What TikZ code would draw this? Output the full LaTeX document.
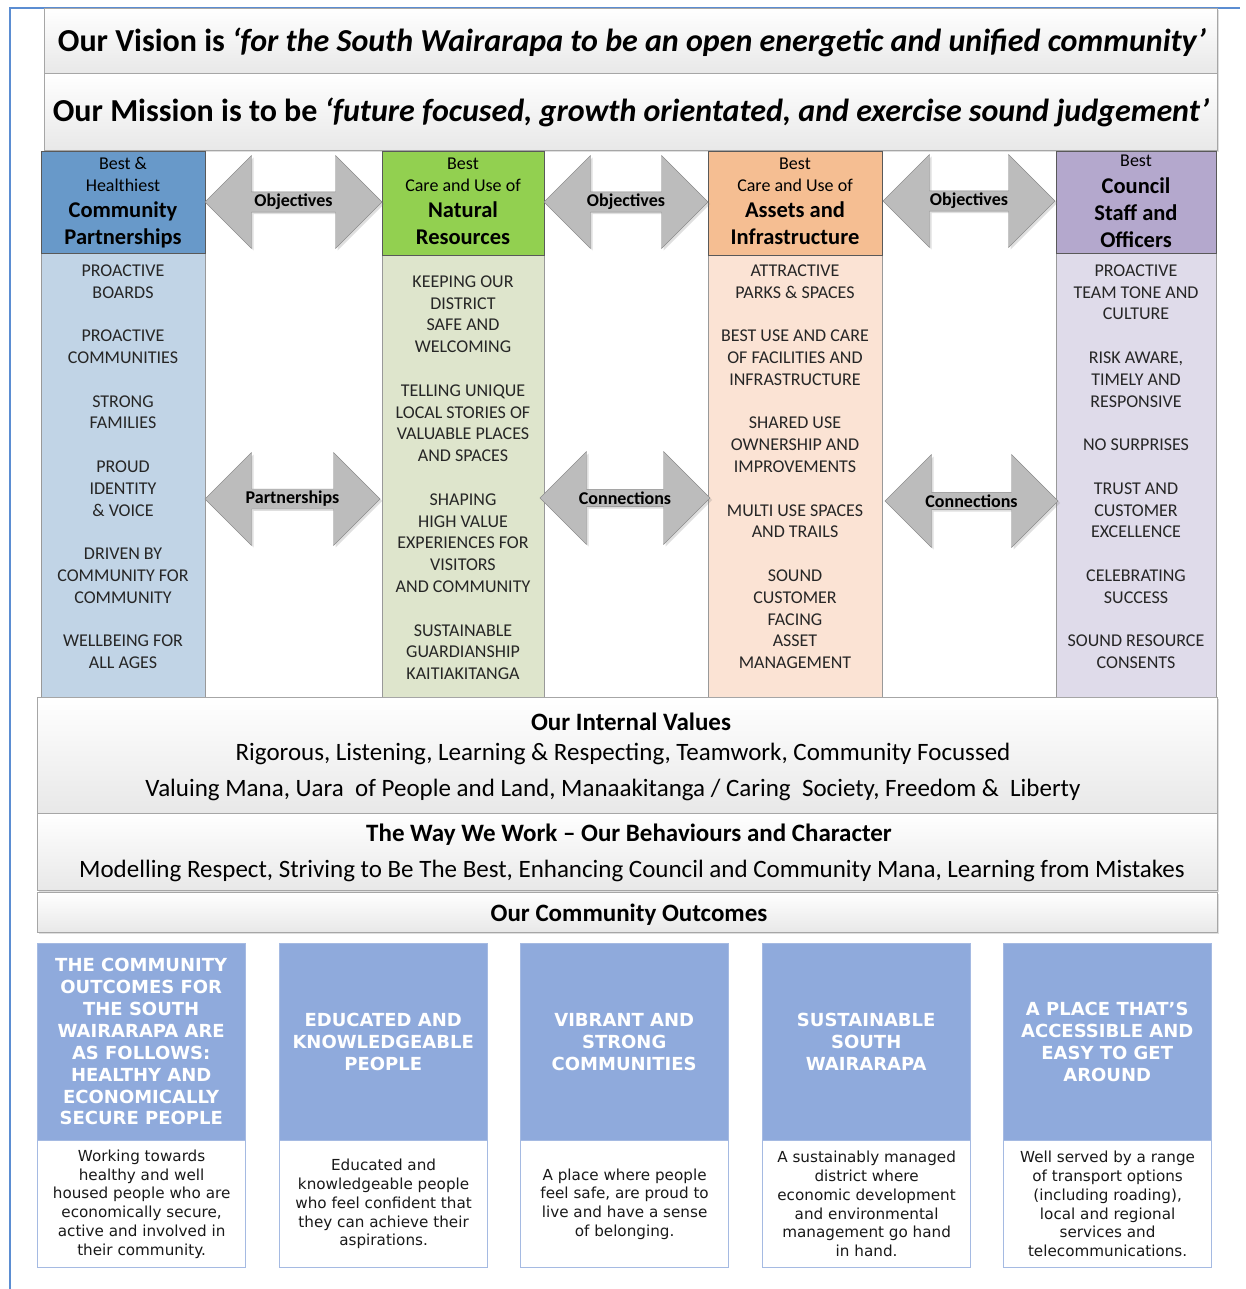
\documentclass[tikz,border=0pt]{standalone}
\usepackage{fontspec}
\setmainfont{Carlito}
\newfontfamily\cardfont{DejaVu Sans}
\usetikzlibrary{shapes.arrows,shadows,positioning}

\definecolor{frameblue}{RGB}{91,141,210}
\definecolor{cpHead}{RGB}{104,153,201}
\definecolor{cpBody}{RGB}{193,212,230}
\definecolor{nrHead}{RGB}{146,208,80}
\definecolor{nrBody}{RGB}{222,229,204}
\definecolor{aiHead}{RGB}{245,190,146}
\definecolor{aiBody}{RGB}{251,227,212}
\definecolor{soHead}{RGB}{180,168,205}
\definecolor{soBody}{RGB}{223,219,234}
\definecolor{outHead}{RGB}{143,170,220}
\definecolor{outLine}{RGB}{165,186,226}
\definecolor{linkGray}{RGB}{188,188,188}

\tikzset{
    banner/.style={draw=black!35, top color=white, bottom color=black!9, anchor=north west, inner sep=0pt,
        drop shadow={opacity=0.25, shadow xshift=2pt, shadow yshift=-2pt}},
    colhead/.style={draw=black!65, line width=1pt, anchor=north west, inner sep=0pt},
    colbody/.style={draw=black!40, anchor=north west, inner sep=0pt},
    linking/.style={double arrow, double arrow head extend=29pt, minimum width=93pt, inner sep=0pt,
        fill=linkGray, draw=black!45,
        drop shadow={opacity=0.25, shadow xshift=2pt, shadow yshift=-2pt},
        font=\fontsize{18}{22}\selectfont\bfseries},
    headline/.style={anchor=base, inner sep=0pt, font=\fontsize{32}{38}\selectfont\bfseries},
    smallhd/.style={anchor=north, align=center, inner sep=0pt, font=\fontsize{18}{22}\selectfont},
    bighd/.style={anchor=north, align=center, inner sep=0pt, font=\fontsize{22.5}{27}\selectfont\bfseries},
    listtext/.style={anchor=north, align=center, inner sep=0pt, text=black!85, font=\fontsize{18}{21.8}\selectfont},
    rowtitle/.style={anchor=base, inner sep=0pt, font=\fontsize{25}{30}\selectfont\bfseries},
    rowtext/.style={anchor=base, inner sep=0pt, font=\fontsize{25}{30}\selectfont},
    cardhead/.style={fill=outHead, draw=outLine, anchor=north west, inner sep=0pt, minimum width=208pt, minimum height=197pt},
    cardbody/.style={fill=white, draw=outLine, line width=1.2pt, anchor=north west, inner sep=0pt, minimum width=208pt, minimum height=127pt},
    cardtitle/.style={align=center, inner sep=0pt, text=white, font=\cardfont\fontsize{18}{21.9}\selectfont\bfseries},
    cardtext/.style={align=center, inner sep=0pt, text=black!90, font=\cardfont\fontsize{15.2}{18.8}\selectfont}
}

\begin{document}
\begin{tikzpicture}[x=1pt, y=-1pt]
\useasboundingbox (0,0) rectangle (1245,1289);
\draw[frameblue, line width=2pt] (10,1289) -- (10,8) -- (1240,8);

% vision and mission
\node[banner, minimum width=1173pt, minimum height=65pt] (vision) at (44,8) {};
\node[banner, minimum width=1173pt, minimum height=77pt] (mission) at (44,73) {};
\node[headline] (visionText) at (632,52) {Our Vision is \textit{‘for the South Wairarapa to be an open energetic and unified community’}};
\node[headline] (missionText) at (631,122) {Our Mission is to be \textit{‘future focused, growth orientated, and exercise sound judgement’}};

% the four columns
\node[colbody, fill=cpBody, minimum width=164pt, minimum height=444pt] (cpBox) at (41,253) {};
\node[colhead, fill=cpHead, minimum width=164pt, minimum height=102pt] (cpHd) at (41,151) {};
\node[smallhd] (cpSmall) at (123,157) {Best \&\\Healthiest};
\node[bighd] (cpBig) at (123,202) {Community\\Partnerships};
\node[listtext] (cpList) at (123,264.4) {PROACTIVE\\BOARDS\\[21.8pt]PROACTIVE\\COMMUNITIES\\[21.8pt]STRONG\\FAMILIES\\[21.8pt]PROUD\\IDENTITY\\\& VOICE\\[21.8pt]DRIVEN BY\\COMMUNITY FOR\\COMMUNITY\\[21.8pt]WELLBEING FOR\\ALL AGES};

\node[colbody, fill=nrBody, minimum width=162pt, minimum height=442pt] (nrBox) at (382,255) {};
\node[colhead, fill=nrHead, minimum width=162pt, minimum height=104pt] (nrHd) at (382,151) {};
\node[smallhd] (nrSmall) at (463,158) {Best\\Care and Use of};
\node[bighd] (nrBig) at (463,202) {Natural\\Resources};
\node[listtext] (nrList) at (463,275.4) {KEEPING OUR\\DISTRICT\\SAFE AND\\WELCOMING\\[21.8pt]TELLING UNIQUE\\LOCAL STORIES OF\\VALUABLE PLACES\\AND SPACES\\[21.8pt]SHAPING\\HIGH VALUE\\EXPERIENCES FOR\\VISITORS\\AND COMMUNITY\\[21.8pt]SUSTAINABLE\\GUARDIANSHIP\\KAITIAKITANGA};

\node[colbody, fill=aiBody, minimum width=174pt, minimum height=442pt] (aiBox) at (708,255) {};
\node[colhead, fill=aiHead, minimum width=174pt, minimum height=104pt] (aiHd) at (708,151) {};
\node[smallhd] (aiSmall) at (795,158) {Best\\Care and Use of};
\node[bighd] (aiBig) at (795,202) {Assets and\\Infrastructure};
\node[listtext] (aiList) at (795,264.4) {ATTRACTIVE\\PARKS \& SPACES\\[21.8pt]BEST USE AND CARE\\OF FACILITIES AND\\INFRASTRUCTURE\\[21.8pt]SHARED USE\\OWNERSHIP AND\\IMPROVEMENTS\\[21.8pt]MULTI USE SPACES\\AND TRAILS\\[21.8pt]SOUND\\CUSTOMER\\FACING\\ASSET\\MANAGEMENT};

\node[colbody, fill=soBody, minimum width=160pt, minimum height=444pt] (soBox) at (1056,253) {};
\node[colhead, fill=soHead, minimum width=160pt, minimum height=102pt] (soHd) at (1056,151) {};
\node[smallhd] (soSmall) at (1136,155) {Best};
\node[bighd] (soBig) at (1136,178) {Council\\Staff and\\Officers};
\node[listtext] (soList) at (1136,264.4) {PROACTIVE\\TEAM TONE AND\\CULTURE\\[21.8pt]RISK AWARE,\\TIMELY AND\\RESPONSIVE\\[21.8pt]NO SURPRISES\\[21.8pt]TRUST AND\\CUSTOMER\\EXCELLENCE\\[21.8pt]CELEBRATING\\SUCCESS\\[21.8pt]SOUND RESOURCE\\CONSENTS};

% links between columns
\node[linking, minimum height=177pt] (objA) at (293.5,202) {Objectives};
\node[linking, minimum height=164pt] (objB) at (626,202) {Objectives};
\node[linking, minimum height=172pt] (objC) at (969,201) {Objectives};
\node[linking, minimum height=175pt] (partA) at (292.5,499) {Partnerships};
\node[linking, minimum height=170pt] (connB) at (625,498) {Connections};
\node[linking, minimum height=173pt] (connC) at (971.5,501) {Connections};

% values, behaviours, outcomes
\node[banner, minimum width=1180pt, minimum height=116pt] (values) at (37,697) {};
\node[rowtitle] (valuesTitle) at (631,730) {Our Internal Values};
\node[rowtext] (valuesA) at (623,760) {Rigorous, Listening, Learning \& Respecting, Teamwork, Community Focussed};
\node[rowtext] (valuesB) at (613,796) {Valuing Mana, Uara\ \ of People and Land, Manaakitanga / Caring\ \ Society, Freedom \&\ \ Liberty};
\node[banner, minimum width=1180pt, minimum height=77pt] (work) at (37,813) {};
\node[rowtitle] (workTitle) at (629,841) {The Way We Work – Our Behaviours and Character};
\node[rowtext] (workText) at (632,877) {Modelling Respect, Striving to Be The Best, Enhancing Council and Community Mana, Learning from Mistakes};
\node[banner, minimum width=1180pt, minimum height=40pt] (outcomes) at (37,892) {};
\node[rowtitle] (outcomesTitle) at (629,921) {Our Community Outcomes};

% outcome cards
\node[cardhead] (ocA) at (37,943) {};
\node[cardbody] (ocAb) at (37,1140) {};
\node[cardtitle] at (ocA.center) {THE COMMUNITY\\OUTCOMES FOR\\THE SOUTH\\WAIRARAPA ARE\\AS FOLLOWS:\\HEALTHY AND\\ECONOMICALLY\\SECURE PEOPLE};
\node[cardtext] at (ocAb.center) {Working towards\\healthy and well\\housed people who are\\economically secure,\\active and involved in\\their community.};

\node[cardhead] (ocB) at (279,943) {};
\node[cardbody] (ocBb) at (279,1140) {};
\node[cardtitle] at (ocB.center) {EDUCATED AND\\KNOWLEDGEABLE\\PEOPLE};
\node[cardtext] at (ocBb.center) {Educated and\\knowledgeable people\\who feel confident that\\they can achieve their\\aspirations.};

\node[cardhead] (ocC) at (520,943) {};
\node[cardbody] (ocCb) at (520,1140) {};
\node[cardtitle] at (ocC.center) {VIBRANT AND\\STRONG\\COMMUNITIES};
\node[cardtext] at (ocCb.center) {A place where people\\feel safe, are proud to\\live and have a sense\\of belonging.};

\node[cardhead] (ocD) at (762,943) {};
\node[cardbody] (ocDb) at (762,1140) {};
\node[cardtitle] at (ocD.center) {SUSTAINABLE\\SOUTH\\WAIRARAPA};
\node[cardtext] at (ocDb.center) {A sustainably managed\\district where\\economic development\\and environmental\\management go hand\\in hand.};

\node[cardhead] (ocE) at (1003,943) {};
\node[cardbody] (ocEb) at (1003,1140) {};
\node[cardtitle] at (ocE.center) {A PLACE THAT’S\\ACCESSIBLE AND\\EASY TO GET\\AROUND};
\node[cardtext] at (ocEb.center) {Well served by a range\\of transport options\\(including roading),\\local and regional\\services and\\telecommunications.};
\end{tikzpicture}
\end{document}
